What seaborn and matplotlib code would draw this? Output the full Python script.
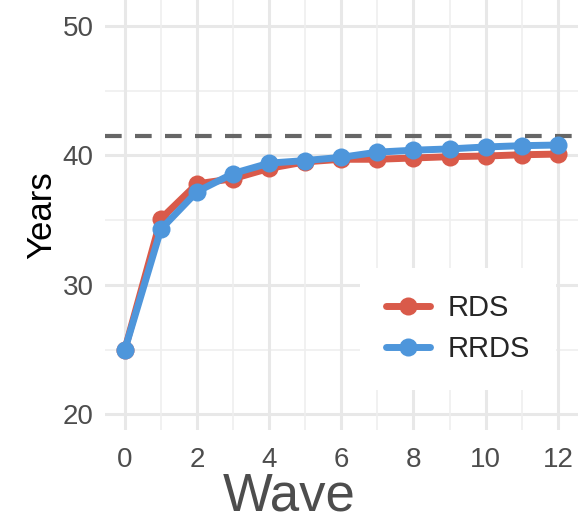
import matplotlib
matplotlib.use("Agg")
import matplotlib.pyplot as plt
import seaborn as sns
import pandas as pd

# Values
waves = list(range(13))
rds = [25.0, 35.1, 37.8, 38.2, 39.0, 39.5, 39.7, 39.7, 39.8, 39.9, 39.95, 40.05, 40.1]
rrds = [25.0, 34.3, 37.2, 38.6, 39.4, 39.6, 39.85, 40.25, 40.4, 40.5, 40.65, 40.75, 40.8]
reference_line = 41.5

df = pd.DataFrame({
    "Wave": waves * 2,
    "Years": rds + rrds,
    "method": ["RDS"] * len(waves) + ["RRDS"] * len(waves),
})

sns.set_style("white")
plt.rcParams["font.family"] = ["Liberation Sans", "DejaVu Sans"]

fig = plt.figure(figsize=(5.8, 5.23), dpi=100)
ax = fig.add_axes([0.181, 0.178, 0.815, 0.822])

# ggplot-like minimal grid
for v in [25, 35, 45]:
    ax.axhline(v, color="#EFEFEF", lw=1.2, zorder=0)
for v in [20, 30, 40, 50]:
    ax.axhline(v, color="#E8E8E8", lw=2.2, zorder=0)
for v in range(1, 13, 2):
    ax.axvline(v, color="#EFEFEF", lw=1.2, zorder=0)
for v in range(0, 13, 2):
    ax.axvline(v, color="#E8E8E8", lw=2.2, zorder=0)

ax.axhline(reference_line, color="#666666", lw=3, ls=(0, (4, 3.2)), zorder=1)

palette = {"RDS": "#D95A4A", "RRDS": "#4E96DB"}
sns.lineplot(data=df, x="Wave", y="Years", hue="method", palette=palette,
             marker="o", markersize=13, markeredgewidth=0, linewidth=5,
             ax=ax, zorder=3)

ax.set_xlim(-0.55, 12.55)
ax.set_ylim(18.8, 52)
ax.set_xticks(range(0, 13, 2))
ax.set_yticks([20, 30, 40, 50])
ax.tick_params(axis="both", length=0, labelsize=20, labelcolor="#4D4D4D")
ax.tick_params(axis="x", pad=12)
ax.tick_params(axis="y", pad=8)
ax.set_xlabel("Wave", fontsize=38, color="#4D4D4D")
ax.xaxis.set_label_coords(0.39, -0.097, transform=ax.transAxes)
ax.xaxis.label.set_va("top")
ax.set_ylabel("Years", fontsize=25, color="black", labelpad=3)
for s in ax.spines.values():
    s.set_visible(False)

leg = ax.legend(loc="lower right", bbox_to_anchor=(0.985, 0.06), fontsize=21,
                frameon=True, framealpha=1, edgecolor="white", facecolor="white",
                handlelength=1.5, handletextpad=0.6, borderpad=0.9,
                labelspacing=0.45, title=None)
leg.get_frame().set_linewidth(0)

fig.savefig("out.png", dpi=100)
